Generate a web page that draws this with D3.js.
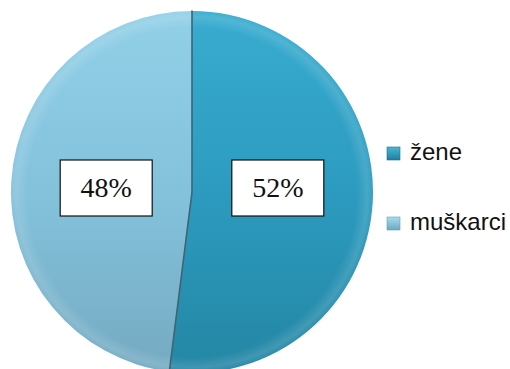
<!DOCTYPE html>
<html>
<head>
<meta charset="utf-8">
<script src="https://cdn.jsdelivr.net/npm/d3@7"></script>
<style>
  html, body { margin: 0; padding: 0; background: #fff; }
  svg { display: block; }
</style>
</head>
<body>
<svg id="chart" width="510" height="369"></svg>
<script>
// Gender split of respondents
const categories = ["žene", "muškarci"];
const values = [52, 48];
const valueLabels = ["52%", "48%"];

const W = 510, H = 369;
const cx = 192, cy = 192, r = 181;

const svg = d3.select("#chart");
const defs = svg.append("defs");

// Fill gradients per slice: lighter at top, darker at bottom (group frame)
const palettes = [
  { id: "gZene", top: "#38acd0", mid: "#2c9bbf", bot: "#2486a4" },
  { id: "gMus", top: "#92d0e8", mid: "#84c2dc", bot: "#74aac1" }
];
palettes.forEach(p => {
  const g = defs.append("linearGradient")
    .attr("id", p.id).attr("gradientUnits", "userSpaceOnUse")
    .attr("x1", 0).attr("y1", -r).attr("x2", 0).attr("y2", r);
  g.append("stop").attr("offset", "0%").attr("stop-color", p.top);
  g.append("stop").attr("offset", "50%").attr("stop-color", p.mid);
  g.append("stop").attr("offset", "100%").attr("stop-color", p.bot);
});

// Soft bevel highlight along the rim
const rim = defs.append("radialGradient")
  .attr("id", "rim").attr("gradientUnits", "userSpaceOnUse")
  .attr("cx", 0).attr("cy", 0).attr("r", r);
rim.append("stop").attr("offset", "91%").attr("stop-color", "#fff").attr("stop-opacity", 0);
rim.append("stop").attr("offset", "97%").attr("stop-color", "#fff").attr("stop-opacity", 0.13);
rim.append("stop").attr("offset", "100%").attr("stop-color", "#fff").attr("stop-opacity", 0.04);

// Legend swatch gradients
const swatchCols = [["#49b6d6", "#1f7f9d"], ["#a6dcef", "#6ea7bf"]];
swatchCols.forEach((c, i) => {
  const g = defs.append("linearGradient").attr("id", "sw" + i)
    .attr("x1", 0).attr("y1", 0).attr("x2", 0).attr("y2", 1);
  g.append("stop").attr("offset", "0%").attr("stop-color", c[0]);
  g.append("stop").attr("offset", "100%").attr("stop-color", c[1]);
});

const pie = d3.pie().sort(null).value(d => d);
const arcs = pie(values);
const arc = d3.arc().innerRadius(0).outerRadius(r);

const g = svg.append("g").attr("transform", `translate(${cx},${cy})`);
const fills = ["url(#gZene)", "url(#gMus)"];

g.selectAll("path.slice")
  .data(arcs)
  .join("path")
  .attr("class", "slice")
  .attr("d", arc)
  .attr("fill", (d, i) => fills[i]);

g.append("circle").attr("r", r).attr("fill", "url(#rim)");

// Dark seams along the slice boundaries (radial edges only)
g.selectAll("line.seam")
  .data(arcs)
  .join("line")
  .attr("class", "seam")
  .attr("x1", 0).attr("y1", 0)
  .attr("x2", d => r * Math.sin(d.startAngle))
  .attr("y2", d => -r * Math.cos(d.startAngle))
  .attr("stroke", "#3f6473")
  .attr("stroke-width", 1.6)
  .attr("stroke-linecap", "round");

// Value labels in white boxes, level with the pie centre
const labelArc = d3.arc().innerRadius(r * 0.475).outerRadius(r * 0.475);
const boxW = 92, boxH = 56;
arcs.forEach((d, i) => {
  const [lx] = labelArc.centroid(d);
  const lg = g.append("g").attr("transform", `translate(${lx},-4)`);
  lg.append("rect")
    .attr("x", -boxW / 2).attr("y", -boxH / 2)
    .attr("width", boxW).attr("height", boxH)
    .attr("fill", "#fff").attr("stroke", "#111").attr("stroke-width", 1.2);
  lg.append("text")
    .attr("text-anchor", "middle")
    .attr("y", 9)
    .style("font-family", "\"Liberation Serif\", \"Times New Roman\", Times, serif")
    .attr("font-size", 28)
    .attr("fill", "#111")
    .text(valueLabels[i]);
});

// Legend
const legend = svg.append("g").attr("transform", "translate(387,147)");
const items = legend.selectAll("g.item")
  .data(categories)
  .join("g")
  .attr("class", "item")
  .attr("transform", (d, i) => `translate(0,${i * 70})`);
items.append("rect")
  .attr("width", 13).attr("height", 13)
  .attr("fill", (d, i) => `url(#sw${i})`)
  .attr("stroke", (d, i) => i === 0 ? "#1f6f88" : "#6a9fb5")
  .attr("stroke-width", 0.6);
items.append("text")
  .attr("x", 23).attr("y", 13)
  .style("font-family", "\"Liberation Sans\", Arial, sans-serif")
  .attr("font-size", 24)
  .attr("fill", "#111")
  .text(d => d);
</script>
</body>
</html>
